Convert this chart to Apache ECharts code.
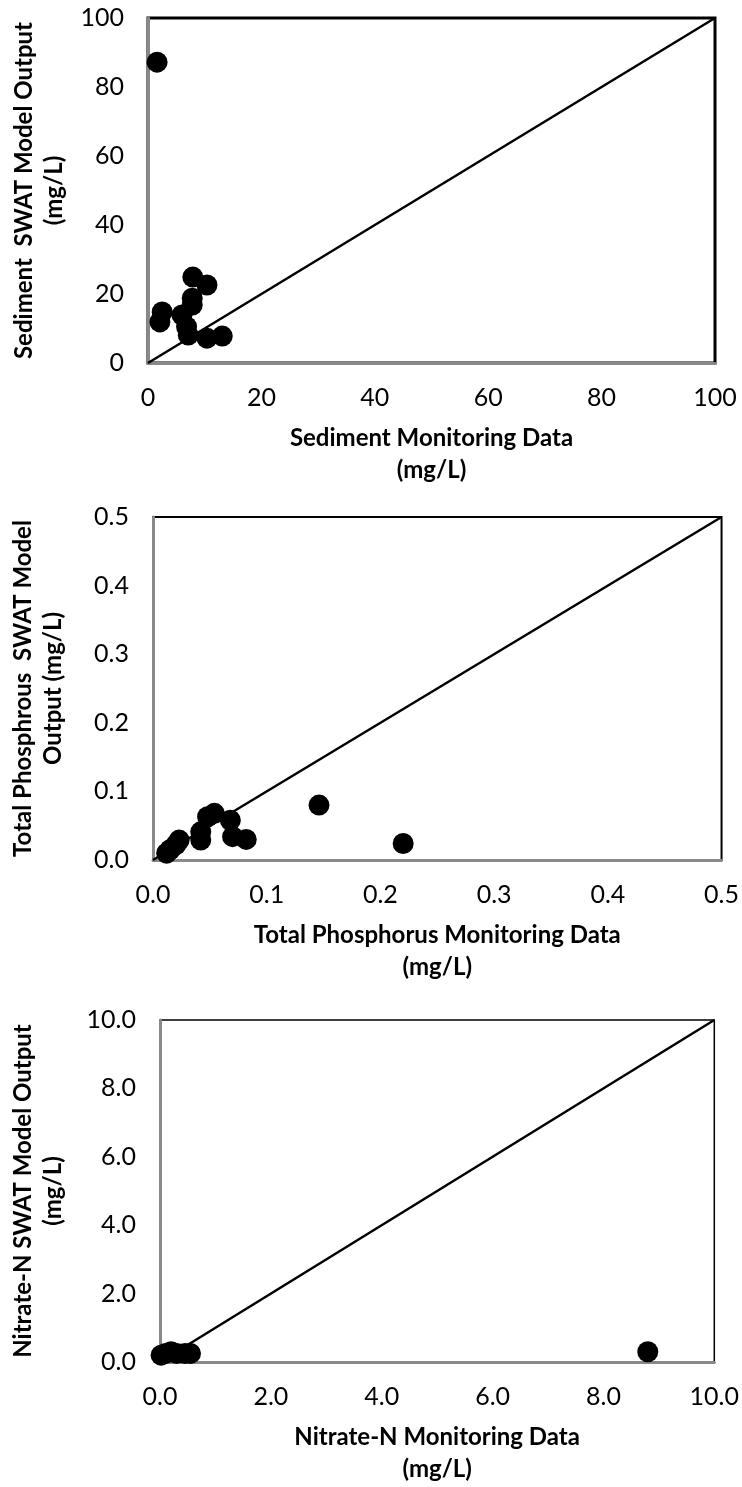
<!DOCTYPE html>
<html>
<head>
<meta charset="utf-8">
<script src="https://cdn.jsdelivr.net/npm/echarts@6/dist/echarts.min.js"></script>
<style>
html,body{margin:0;padding:0;background:#fff;}
#c{width:742px;height:1487px;}
</style>
</head>
<body>
<div id="c"></div>
<script>
// Sediment (mg/L): [monitoring, SWAT model]
var sedimentPoints = [
  [1.6, 87.2], [7.9, 24.9], [10.4, 22.6], [7.8, 18.8], [7.8, 16.8],
  [2.5, 14.8], [2.1, 11.9], [6.0, 13.9], [6.8, 10.5], [7.1, 8.1],
  [10.4, 7.2], [13.1, 7.8]
];
// Total phosphorus (mg/L): [monitoring, SWAT model]
var phosphorusPoints = [
  [0.146, 0.080], [0.220, 0.024], [0.048, 0.063], [0.054, 0.068],
  [0.068, 0.058], [0.070, 0.034], [0.082, 0.030], [0.042, 0.041],
  [0.042, 0.029], [0.023, 0.029], [0.020, 0.022], [0.015, 0.015],
  [0.012, 0.010]
];
// Nitrate-N (mg/L): [monitoring, SWAT model]
var nitratePoints = [
  [0.02, 0.20], [0.10, 0.25], [0.20, 0.30], [0.30, 0.25],
  [0.45, 0.25], [0.55, 0.25], [8.8, 0.30]
];
var sedimentLine = [[0, 0], [100, 100]];
var phosphorusLine = [[0, 0], [0.5, 0.5]];
var nitrateLine = [[0, 0], [10, 10]];

var sedimentAxis = {min: 0, max: 100, interval: 20};
var phosphorusAxis = {min: 0, max: 0.5, interval: 0.1};
var nitrateAxis = {min: 0, max: 10, interval: 2};

var titles = {
  sedY: 'Sediment  SWAT Model Output\n(mg/L)',
  sedX: 'Sediment Monitoring Data\n(mg/L)',
  tpY: 'Total Phosphrous  SWAT Model\nOutput (mg/L)',
  tpX: 'Total Phosphorus Monitoring Data\n(mg/L)',
  noY: 'Nitrate-N SWAT Model Output\n(mg/L)',
  noX: 'Nitrate-N Monitoring Data\n(mg/L)'
};

var FONT = 'Lato, "Open Sans", sans-serif';
var chart = echarts.init(document.getElementById('c'));

function xAx(i, rng, name, fmt) {
  return {
    gridIndex: i, type: 'value', min: rng.min, max: rng.max, interval: rng.interval,
    name: name, nameLocation: 'middle', nameGap: 59,
    nameTextStyle: {fontFamily: FONT, fontWeight: 'bold', fontSize: 24, color: '#000', lineHeight: 32},
    axisLine: {show: true, onZero: false, lineStyle: {color: '#898989', width: 3}},
    axisTick: {show: false},
    splitLine: {show: false},
    axisLabel: {fontFamily: FONT, fontSize: 25, color: '#000', margin: 22, formatter: fmt}
  };
}
function yAx(i, rng, name, fmt, gap) {
  return {
    gridIndex: i, type: 'value', min: rng.min, max: rng.max, interval: rng.interval,
    name: name, nameLocation: 'middle', nameGap: gap, nameRotate: 90,
    nameTextStyle: {fontFamily: FONT, fontWeight: 'bold', fontSize: 24, color: '#000', lineHeight: 30},
    axisLine: {show: true, onZero: false, lineStyle: {color: '#898989', width: 3}},
    axisTick: {show: false},
    splitLine: {show: false},
    axisLabel: {fontFamily: FONT, fontSize: 25, color: '#000', margin: 24, formatter: fmt}
  };
}
var f0 = function (v) { return String(Math.round(v)); };
var f1 = function (v) { return v.toFixed(1); };

function scat(i, data) {
  return {type: 'scatter', xAxisIndex: i, yAxisIndex: i, data: data, symbolSize: 21,
    itemStyle: {color: '#000', opacity: 1}, z: 5, silent: true};
}
function diag(i, data) {
  return {type: 'line', xAxisIndex: i, yAxisIndex: i, data: data, symbol: 'none',
    lineStyle: {color: '#000', width: 2.5}, z: 3, silent: true};
}

chart.setOption({
  animation: false,
  backgroundColor: '#fff',
  grid: [
    {left: 148, right: 27, top: 18, height: 345, show: true, borderColor: '#000', borderWidth: 3},
    {left: 150, right: 20, top: 517, height: 343, show: true, borderColor: '#000', borderWidth: 2},
    {left: 159, right: 27, top: 1020, height: 342, show: true, borderColor: '#000', borderWidth: 1.5}
  ],
  xAxis: [
    xAx(0, sedimentAxis, titles.sedX, f0),
    xAx(1, phosphorusAxis, titles.tpX, f1),
    xAx(2, nitrateAxis, titles.noX, f1)
  ],
  yAxis: [
    yAx(0, sedimentAxis, titles.sedY, f0, 77),
    yAx(1, phosphorusAxis, titles.tpY, f1, 85),
    yAx(2, nitrateAxis, titles.noY, f1, 92)
  ],
  series: [
    diag(0, sedimentLine), scat(0, sedimentPoints),
    diag(1, phosphorusLine), scat(1, phosphorusPoints),
    diag(2, nitrateLine), scat(2, nitratePoints)
  ]
});
</script>
</body>
</html>
